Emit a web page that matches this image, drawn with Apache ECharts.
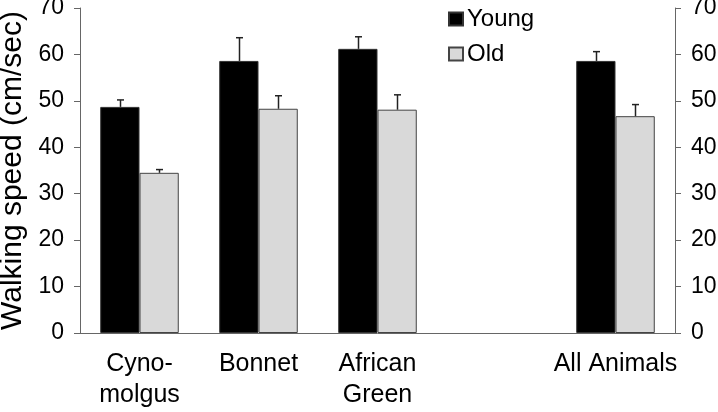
<!DOCTYPE html>
<html>
<head>
<meta charset="utf-8">
<script src="https://cdn.jsdelivr.net/npm/echarts@6/dist/echarts.min.js"></script>
<style>html,body{margin:0;padding:0;background:#fff;}#c{width:718px;height:412px;}</style>
</head>
<body>
<div id="c"></div>
<script>
var categories = ['Cyno-\nmolgus', 'Bonnet', 'African\nGreen', '', 'All Animals'];
var youngValues = [48.7, 58.6, 61.2, null, 58.6];
var youngErrors = [1.5, 5.0, 2.6, null, 2.0];
var oldValues = [34.5, 48.3, 48.1, null, 46.7];
var oldErrors = [0.7, 2.8, 3.2, null, 2.5];
var yTicks = [0, 10, 20, 30, 40, 50, 60, 70];

var FONT = 'Liberation Sans, Arial, sans-serif';
var BAR_FRAC = 0.33;

function errSeries(values, errors, side) {
  var data = values.map(function (v, i) { return v == null ? null : [i, v, v + errors[i]]; }).filter(function (d) { return d; });
  return {
    type: 'custom',
    data: data,
    z: 5,
    silent: true,
    renderItem: function (params, api) {
      var band = api.size([1, 0])[0];
      var off = side * band * BAR_FRAC / 2;
      var base = api.coord([api.value(0), api.value(1)]);
      var top = api.coord([api.value(0), api.value(2)]);
      var x = Math.round(base[0] + off) + 0.5;
      var cap = 3.5;
      return {
        type: 'group',
        children: [
          { type: 'line', shape: { x1: x, y1: base[1], x2: x, y2: top[1] }, style: { stroke: '#222', lineWidth: 1.5 } },
          { type: 'line', shape: { x1: x - cap, y1: top[1], x2: x + cap, y2: top[1] }, style: { stroke: '#222', lineWidth: 1.5 } }
        ]
      };
    }
  };
}

var yAxisBase = {
  type: 'value', min: yTicks[0], max: yTicks[yTicks.length - 1], interval: 10,
  axisLine: { show: true, lineStyle: { color: '#666', width: 1 } },
  axisTick: { show: true, length: 6, lineStyle: { color: '#666' } },
  splitLine: { show: false },
  axisLabel: { color: '#000', fontSize: 23, fontFamily: FONT, margin: 16 }
};

var chart = echarts.init(document.getElementById('c'), null, { renderer: 'canvas' });
chart.setOption({
  animation: false,
  backgroundColor: '#fff',
  textStyle: { fontFamily: FONT },
  grid: { left: 80, right: 43, top: 8, bottom: 79, containLabel: false, outerBoundsMode: 'none' },
  legend: {
    orient: 'vertical', left: 448, top: 7, padding: 0, itemWidth: 14, itemHeight: 13, itemGap: 11,
    icon: 'rect',
    textStyle: { fontSize: 24, color: '#000', fontFamily: FONT, padding: [0, 0, 0, -1] },
    data: ['Young', 'Old']
  },
  xAxis: {
    type: 'category', data: categories,
    axisLine: { show: true, lineStyle: { color: '#666', width: 1 } },
    axisTick: { show: false },
    axisLabel: { color: '#000', fontSize: 25, fontFamily: FONT, lineHeight: 31, margin: 16, interval: 0 }
  },
  yAxis: [
    Object.assign({}, yAxisBase, {
      position: 'left', name: 'Walking speed (cm/sec)', nameLocation: 'middle', nameGap: 52,
      nameTextStyle: { fontSize: 30, color: '#000', fontFamily: FONT }
    }),
    Object.assign({}, yAxisBase, { position: 'right' })
  ],
  series: [
    { name: 'Young', type: 'bar', data: youngValues, barWidth: '33%', barGap: '0%',
      itemStyle: { color: '#000', borderColor: '#333', borderWidth: 1 } },
    { name: 'Old', type: 'bar', data: oldValues, barWidth: '33%', barGap: '0%',
      itemStyle: { color: '#d9d9d9', borderColor: '#444', borderWidth: 1 } },
    errSeries(youngValues, youngErrors, -1),
    errSeries(oldValues, oldErrors, 1)
  ]
});
</script>
</body>
</html>
